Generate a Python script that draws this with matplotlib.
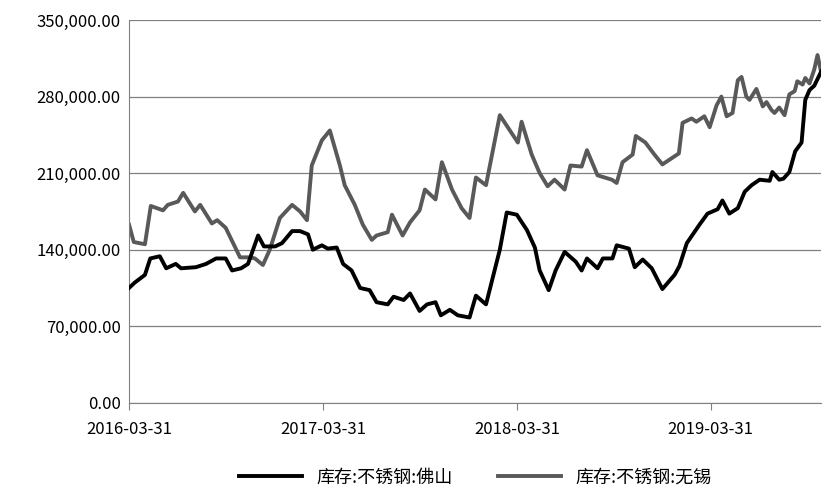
import numpy as np
import pandas as pd
import matplotlib
matplotlib.use("Agg")
import matplotlib.pyplot as plt
from matplotlib.ticker import FuncFormatter

plt.rcParams['font.family'] = ['Noto Sans CJK SC', 'DejaVu Sans']

# --- DATA (days since 2016-03-31, inventory values) ---
START = pd.Timestamp("2016-03-31")

foshan_days = [0, 11, 30, 40, 58, 70, 88, 98, 126, 145, 164, 182, 194, 211, 224, 243, 254, 275, 288, 307,
               322, 337, 346, 363, 374, 391, 403, 419, 435, 453, 466, 487, 498, 517, 529, 547, 561, 577, 587,
               604, 619, 641, 653, 672, 698, 711, 730, 749, 764, 773, 790, 803, 820, 841, 852, 862, 882, 892,
               910, 918, 941, 952, 967, 984, 1004, 1027, 1036, 1050, 1074, 1089, 1108, 1117, 1130, 1146, 1159,
               1172, 1187, 1206, 1211, 1224, 1232, 1243, 1254, 1266, 1273, 1281, 1290, 1300, 1303]
foshan_vals = [105, 110, 117, 132, 134, 123, 127, 123, 124, 127, 132, 132, 121, 123, 127, 153, 143, 143, 146, 157,
               157, 154, 140, 144, 141, 142, 127, 121, 105, 103, 92, 90, 97, 94, 100, 84, 90, 92, 80,
               85, 80, 78, 98, 90, 140, 174, 172, 158, 142, 121, 103, 121, 138, 129, 121, 132, 123, 132,
               132, 144, 141, 124, 131, 123, 104, 117, 125, 146, 163, 173, 177, 185, 173, 178, 193,
               199, 204, 203, 211, 204, 205, 211, 230, 238, 277, 286, 290, 300, 303]

wuxi_days = [0, 9, 30, 41, 64, 73, 92, 102, 124, 134, 156, 166, 182, 198, 209, 228, 237, 252, 265, 284,
             307, 322, 335, 344, 363, 378, 397, 406, 425, 440, 457, 466, 487, 495, 515, 529, 547, 557, 577,
             589, 608, 626, 641, 653, 672, 698, 717, 732, 739, 758, 773, 788, 801, 820, 831, 852, 862, 882,
             909, 918, 929, 948, 954, 972, 989, 1004, 1035, 1042, 1059, 1068, 1083, 1093, 1106, 1115, 1125,
             1136, 1146, 1153, 1162, 1168, 1181, 1193, 1200, 1209, 1215, 1224, 1234, 1243, 1253, 1258, 1268,
             1273, 1281, 1290, 1296, 1303]
wuxi_vals = [163, 147, 145, 180, 176, 181, 184, 192, 175, 181, 164, 167, 160, 144, 133, 133, 132, 126, 140, 169,
             181, 175, 167, 217, 240, 249, 217, 199, 181, 163, 149, 153, 156, 172, 153, 165, 176, 195, 186,
             220, 195, 178, 169, 206, 199, 263, 249, 238, 257, 227, 210, 198, 204, 195, 217, 216, 231, 208,
             204, 201, 220, 227, 244, 238, 227, 218, 228, 256, 260, 257, 262, 252, 272, 280, 262,
             265, 295, 298, 280, 277, 287, 271, 275, 268, 265, 270, 263, 282, 285, 294, 291,
             297, 292, 305, 318, 302]

labels = ["库存:不锈钢:佛山", "库存:不锈钢:无锡"]
x_ticks = ["2016-03-31", "2017-03-31", "2018-03-31", "2019-03-31"]

# --- PLOT ---
fig = plt.figure(figsize=(8.35, 5.01), dpi=100)
ax = fig.add_axes([0.1545, 0.196, 0.829, 0.764])

fx = START + pd.to_timedelta(foshan_days, unit="D")
wx = START + pd.to_timedelta(wuxi_days, unit="D")
ax.plot(fx, np.array(foshan_vals) * 1000, color="black", lw=2.8, label=labels[0], zorder=3)
ax.plot(wx, np.array(wuxi_vals) * 1000, color="#595959", lw=2.8, label=labels[1], zorder=2)

ax.set_xlim(START, START + pd.Timedelta(days=1303))
ax.set_ylim(0, 350000)
ax.set_yticks(np.arange(0, 350001, 70000))
ax.yaxis.set_major_formatter(FuncFormatter(lambda v, p: f"{v:,.2f}"))
ax.set_xticks(pd.to_datetime(x_ticks))
ax.set_xticklabels(x_ticks)
ax.grid(axis="y", color="#808080", lw=0.9)
ax.set_axisbelow(True)
for s in ["top", "right"]:
    ax.spines[s].set_visible(False)
ax.spines["left"].set_color("#808080")
ax.spines["bottom"].set_color("#808080")
ax.tick_params(axis="y", length=0, labelsize=12, pad=6)
ax.tick_params(axis="x", length=5, color="#808080", labelsize=12, pad=8)

ax.legend(loc="upper center", bbox_to_anchor=(0.5, -0.13), ncol=2, frameon=False,
          fontsize=13, handlelength=3.5, columnspacing=2.5)

fig.savefig("out.png", dpi=100)
